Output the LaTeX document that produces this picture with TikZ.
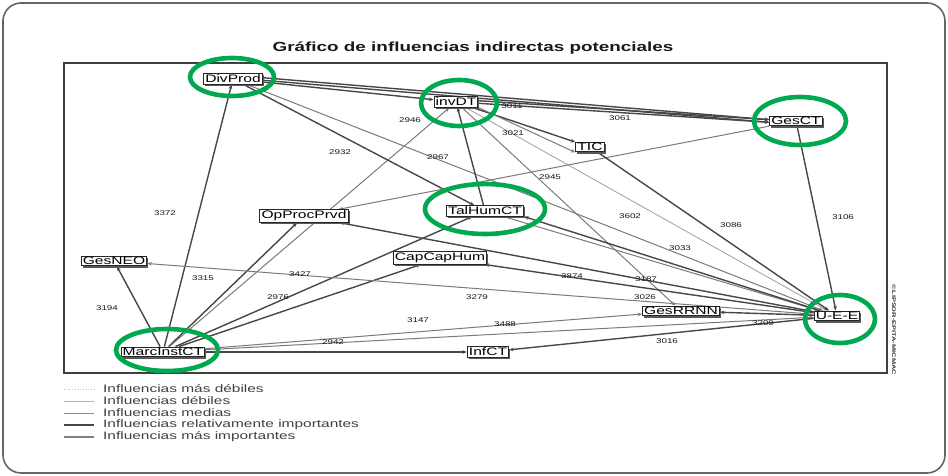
\documentclass[tikz,border=0pt]{standalone}
\usepackage{fontspec}
\setmainfont{Liberation Sans}
\newfontfamily\wfont[FakeStretch=1.43]{Liberation Sans}
\usetikzlibrary{
    arrows.meta,
    shadows,
    backgrounds
}
\definecolor{ringgreen}{RGB}{0,168,80}

\begin{document}
\begin{tikzpicture}[
    x=1pt, y=-1pt,
    var/.style={
        rectangle, draw=black!85, line width=1pt, fill=white,
        inner xsep=1.6pt, inner ysep=1.1pt,
        font=\wfont\fontsize{10.9}{11}\selectfont,
        drop shadow={shadow xshift=1.5pt, shadow yshift=-1.6pt,
                     fill=black!65, opacity=1}
    },
    val/.style={font=\wfont\fontsize{6.9}{7}\selectfont, text=black!90, inner sep=0pt},
    legtext/.style={font=\wfont\fontsize{10.8}{11}\selectfont, text=black!75,
                    anchor=west, inner sep=0pt},
    ring/.style={draw=ringgreen, line width=4.6pt},
    tip/.style={-{Stealth[length=4.5pt,width=3.6pt]}},
    masdebil/.style={draw=black!25, line width=0.7pt, dotted},
    debil/.style={tip, draw=black!38, line width=0.8pt},
    media/.style={tip, draw=black!52, line width=1pt},
    relimp/.style={tip, draw=black!72, line width=1.4pt},
    masimp/.style={tip, draw=black!50, line width=1.7pt}
]
\useasboundingbox (0,0) rectangle (948,476);

% Frames and title
\draw[black!60, line width=1.6pt, rounded corners=18pt] (3,3) rectangle (945,473);
\draw[black!75, line width=1.4pt] (64,63) rectangle (887,373);
\node[font=\wfont\bfseries\fontsize{13.2}{14}\selectfont, text=black!90] (title) at (473,48)
    {Gráfico de influencias indirectas potenciales};
\node[font=\wfont\bfseries\fontsize{5.2}{6}\selectfont, rotate=-90, text=black!80]
    (copyr) at (894,330) {©LIPSOR-EPITA-MICMAC};

% Variables
\node[var] (divprod)  at (233,79)  {DivProd};
\node[var] (invdt)    at (456,102) {invDT};
\node[var] (gesct)    at (796,121) {GesCT};
\node[var] (tic)      at (590,147) {TIC};
\node[var] (opproc)   at (304,216) {OpProcPrvd};
\node[var] (talhum)   at (485,211) {TalHumCT};
\node[var] (gesneo)   at (114,261) {GesNEO};
\node[var] (capcap)   at (440,258) {CapCapHum};
\node[var] (gesrrnn)  at (681,311) {GesRRNN};
\node[var] (uee)      at (837,316) {U-E-E};
\node[var] (marcinst) at (163,352) {MarcInstCT};
\node[var] (infct)    at (488,352) {InfCT};

% Influence values
\foreach \v/\px/\py in {3372/165/213, 3194/107/308, 3315/203/278, 2976/278/297,
    3427/300/274, 2932/340/152, 2946/410/120, 2967/438/157, 3011/512/106,
    3021/513/133, 3061/620/118, 2945/550/177, 3602/630/216, 3086/731/225,
    3106/843/217, 3033/680/248, 3874/572/276, 3187/646/279, 3279/477/297,
    3026/645/297, 3147/418/320, 3488/505/324, 2942/333/342, 3209/763/323,
    3016/667/341}
    \node[val] (v\v) at (\px,\py) {\v};

% Arrows
\begin{scope}[on background layer]
% from MarcInstCT
\draw[relimp] (marcinst) -- (divprod);
\draw[relimp] (marcinst) -- (gesneo);
\draw[relimp] (marcinst) -- (opproc);
\draw[media]  (marcinst) -- (invdt);
\draw[relimp] (marcinst) -- (talhum);
\draw[relimp] (marcinst) -- (capcap);
\draw[media]  (marcinst) -- (gesrrnn);
\draw[media]  (marcinst) -- (uee);
\draw[relimp] (marcinst) -- (infct);
% from DivProd
\draw[relimp] ([yshift=1.3pt]divprod.east) -- ([yshift=1.3pt]gesct.west);
\draw[relimp] ([yshift=-1.3pt]divprod.east) -- ([yshift=-1.3pt]gesct.west);
\draw[relimp] (divprod) -- (invdt);
\draw[relimp] (divprod) -- (talhum);
\draw[media]  (divprod) -- (uee);
% from invDT
\draw[relimp] ([yshift=1.3pt]invdt.east) -- ([yshift=1.3pt]gesct.west);
\draw[relimp] ([yshift=-1.3pt]invdt.east) -- ([yshift=-1.3pt]gesct.west);
\draw[relimp] (invdt) -- (tic);
\draw[media]  (invdt.south east) -- (tic.south west);
\draw[media]  (invdt) -- (gesrrnn);
\draw[debil]  (invdt) -- (uee);
% from TalHumCT, GesCT and TIC
\draw[relimp] (talhum) -- (invdt);
\draw[media]  (talhum) -- (uee);
\draw[media]  (gesct) -- (opproc);
\draw[relimp] (gesct) -- (uee);
\draw[relimp] (tic) -- (uee);
% from U-E-E
\draw[relimp] (uee) -- (talhum.south east);
\draw[relimp] (uee) -- (opproc);
\draw[relimp] (uee) -- (capcap);
\draw[media]  (uee) -- (gesneo);
\draw[relimp] (uee) -- (gesrrnn);
\draw[relimp] (uee) -- (infct);
\end{scope}

% Highlight rings
\draw[ring] (232,77)  ellipse [x radius=42, y radius=19];
\draw[ring] (459,103) ellipse [x radius=38, y radius=23];
\draw[ring] (800,121) ellipse [x radius=46, y radius=24];
\draw[ring] (485,209) ellipse [x radius=60, y radius=25];
\draw[ring] (840,319) ellipse [x radius=35, y radius=24];
\draw[ring] (167,350) ellipse [x radius=51, y radius=21];

% Legend
\node[legtext] (leg1) at (103,389) {Influencias más débiles};
\node[legtext] (leg2) at (103,401) {Influencias débiles};
\node[legtext] (leg3) at (103,413) {Influencias medias};
\node[legtext] (leg4) at (103,425) {Influencias relativamente importantes};
\node[legtext] (leg5) at (103,437) {Influencias más importantes};
\draw[masdebil] ([xshift=-39pt]leg1.west) -- ([xshift=-9pt]leg1.west);
\draw[draw=black!30, line width=0.8pt] ([xshift=-39pt]leg2.west) -- ([xshift=-9pt]leg2.west);
\draw[draw=black!45, line width=1pt] ([xshift=-39pt]leg3.west) -- ([xshift=-9pt]leg3.west);
\draw[draw=black!72, line width=1.5pt] ([xshift=-39pt]leg4.west) -- ([xshift=-9pt]leg4.west);
\draw[draw=black!50, line width=1.7pt] ([xshift=-39pt]leg5.west) -- ([xshift=-9pt]leg5.west);

\end{tikzpicture}
\end{document}
